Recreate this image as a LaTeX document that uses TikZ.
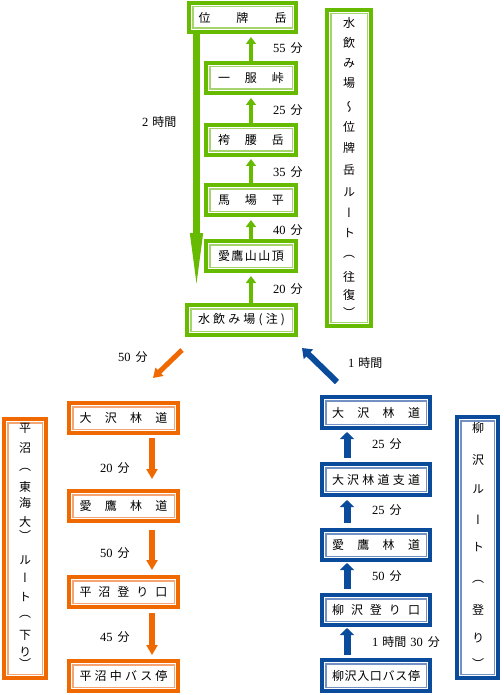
\documentclass[tikz,border=0pt]{standalone}
\usepackage{fontspec}
\setmainfont{Liberation Serif}
\newfontfamily\jp{Noto Sans CJK JP}[Scale=0.96]
\newfontfamily\jpv{Noto Sans CJK JP}[Scale=0.96,RawFeature=+vert]
\usetikzlibrary{arrows.meta,calc}
\definecolor{gdark}{RGB}{102,187,0}
\definecolor{glight}{RGB}{165,212,110}
\definecolor{odark}{RGB}{240,105,0}
\definecolor{olight}{RGB}{245,165,115}
\definecolor{bdark}{RGB}{10,75,155}
\definecolor{blight}{RGB}{115,145,195}
\tikzset{
  dblframe/.style 2 args={draw=#1,line width=4pt,fill=white,inner sep=0pt,
    path picture={\draw[draw=#2,line width=1.5pt]
      ([shift={(3.75pt,3.75pt)}]path picture bounding box.south west) rectangle
      ([shift={(-3.75pt,-3.75pt)}]path picture bounding box.north east);}},
  gbox/.style={dblframe={gdark}{glight},minimum height=30pt},
  obox/.style={dblframe={odark}{olight},minimum width=109pt,minimum height=30pt},
  bbox/.style={dblframe={bdark}{blight},minimum width=108pt,minimum height=30pt},
  lbl/.style={inner sep=0pt,anchor=west},
  vch/.style={inner sep=0pt,font=\fontsize{12.5}{15}\selectfont\jpv},
  garrow/.style={draw=gdark,line width=4.5pt,-{Triangle[width=10pt,length=7pt]}},
  bigarrow/.style={draw=gdark,line width=7pt,-{Triangle[width=11pt,length=66pt]}},
  oarrow/.style={draw=odark,line width=6pt,-{Triangle[width=11pt,length=10pt]}},
  odarrow/.style={draw=odark,line width=5pt,-{Triangle[width=11pt,length=9pt]}},
  barrow/.style={draw=bdark,line width=7pt,-{Triangle[width=14pt,length=7pt]}},
  bdarrow/.style={draw=bdark,line width=6pt,-{Triangle[width=13pt,length=9pt]}},
}
\begin{document}
\begin{tikzpicture}[x=1pt,y=-1pt,every node/.style={font=\fontsize{12.5}{15}\selectfont}]
\fill[white] (0,0) rectangle (503,695);
\useasboundingbox (0,0) rectangle (503,695);

% green route
\node[gbox,minimum width=107pt,minimum height=29pt] (ihai) at (242.5,17.5) {\jp\makebox[88pt][s]{位\hfill 牌\hfill 岳}};
\node[gbox,minimum width=90pt] (ippuku) at (251,78) {\jp\makebox[66pt][s]{一\hfill 服\hfill 峠}};
\node[gbox,minimum width=90pt] (hakama) at (251,140) {\jp\makebox[66pt][s]{袴\hfill 腰\hfill 岳}};
\node[gbox,minimum width=90pt] (baba) at (251,200) {\jp\makebox[66pt][s]{馬\hfill 場\hfill 平}};
\node[gbox,minimum width=90pt] (sancho) at (251,256) {\jp\makebox[66pt][s]{愛\hfill 鷹\hfill 山\hfill 山\hfill 頂}};
\node[gbox,minimum width=109pt] (mizu) at (241.5,320) {\jp\makebox[87pt][s]{水\hfill 飲\hfill み\hfill 場\hfill (\hfill 注\hfill )}};
\node[gbox,minimum width=44pt,minimum height=316pt] (groute) at (349,168) {};
\foreach \c/\y [count=\i] in {水/23,飲/43,み/63,場/83,〜/107,位/127,牌/148,岳/170,ル/192,ー/213,ト/233,（/257,往/277,復/295,）/312}
  \node[vch] (gv\i) at (349,\y) {\c};

\draw[garrow,shorten >=3pt] (ippuku.north) -- (ihai.south -| ippuku.north);
\draw[garrow,shorten >=3pt] (hakama.north) -- (ippuku.south);
\draw[garrow,shorten >=2pt] (baba.north) -- (hakama.south);
\draw[garrow,shorten >=3pt] (sancho.north) -- (baba.south);
\draw[garrow,shorten >=3pt] (mizu.north -| sancho.north) -- (sancho.south);
\draw[bigarrow,shorten >=4pt] ([xshift=9.5pt]ihai.south west) -- ([xshift=11.5pt]mizu.north west);

\node[lbl] (g55) at (273,48) {55\hspace{5pt}{\jp 分}};
\node[lbl] (g25) at (273,110) {25\hspace{5pt}{\jp 分}};
\node[lbl] (g35) at (273,172) {35\hspace{5pt}{\jp 分}};
\node[lbl] (g40) at (273,230) {40\hspace{5pt}{\jp 分}};
\node[lbl] (g20) at (273,289) {20\hspace{5pt}{\jp 分}};
\node[lbl] (g2h) at (142,122) {2\hspace{4pt}{\jp 時間}};

% orange route
\node[obox] (ooL) at (123.5,418) {\jp\makebox[88pt][s]{大\hfill 沢\hfill 林\hfill 道}};
\node[obox] (aiL) at (123.5,506) {\jp\makebox[88pt][s]{愛\hfill 鷹\hfill 林\hfill 道}};
\node[obox] (hiraL) at (123.5,592) {\jp\makebox[88pt][s]{平\hfill 沼\hfill 登\hfill り\hfill 口}};
\node[obox] (busL) at (123.5,676) {\jp\makebox[88pt][s]{平\hfill 沼\hfill 中\hfill バ\hfill ス\hfill 停}};
\node[obox,minimum width=42pt,minimum height=259pt] (oroute) at (25,548.5) {};
\foreach \c/\y [count=\i] in {平/428,沼/448,（/470,東/487,海/503,大/522,）/535,ル/560,ー/578,ト/597,（/617,下/635,り/652,）/663}
  \node[vch] (ov\i) at (25,\y) {\c};

\draw[oarrow,shorten <=3pt,shorten >=10pt] ([xshift=28.5pt]ooL.south) -- ([xshift=28.5pt]aiL.north);
\draw[oarrow,shorten <=7pt,shorten >=5pt] ([xshift=28.5pt]aiL.south) -- ([xshift=28.5pt]hiraL.north);
\draw[oarrow,shorten <=4pt,shorten >=4pt] ([xshift=28.5pt]hiraL.south) -- ([xshift=28.5pt]busL.north);
\draw[odarrow] ([shift={(-3pt,-13pt)}]mizu.south west) -- ([shift={(-27pt,23pt)}]ooL.north east);

\node[lbl] (o50d) at (118,357) {50\hspace{5pt}{\jp 分}};
\node[lbl] (o20) at (100,468) {20\hspace{5pt}{\jp 分}};
\node[lbl] (o50) at (100,553) {50\hspace{5pt}{\jp 分}};
\node[lbl] (o45) at (100,637) {45\hspace{5pt}{\jp 分}};

% blue route
\node[bbox,minimum height=31pt] (ooR) at (376,412.5) {\jp\makebox[88pt][s]{大\hfill 沢\hfill 林\hfill 道}};
\node[bbox,minimum height=31pt] (shiR) at (376,479.5) {\jp\makebox[88pt][s]{大\hfill 沢\hfill 林\hfill 道\hfill 支\hfill 道}};
\node[bbox] (aiR) at (376,545) {\jp\makebox[88pt][s]{愛\hfill 鷹\hfill 林\hfill 道}};
\node[bbox] (tozR) at (376,610) {\jp\makebox[88pt][s]{柳\hfill 沢\hfill 登\hfill り\hfill 口}};
\node[bbox,minimum height=31pt] (busR) at (376,675.5) {\jp\makebox[88pt][s]{柳\hfill 沢\hfill 入\hfill 口\hfill バ\hfill ス\hfill 停}};
\node[bbox,minimum width=41pt,minimum height=261pt] (broute) at (477.5,547.5) {};
\foreach \c/\y [count=\i] in {柳/428,沢/460,ル/489,ー/520,ト/547,（/582,登/610,り/638,）/663}
  \node[vch] (bv\i) at (478,\y) {\c};

\draw[barrow,shorten <=4pt,shorten >=2pt] ([xshift=-29pt]shiR.north) -- ([xshift=-29pt]ooR.south);
\draw[barrow,shorten <=5pt,shorten >=3pt] ([xshift=-29pt]aiR.north) -- ([xshift=-29pt]shiR.south);
\draw[barrow,shorten <=4pt,shorten >=1pt] ([xshift=-29pt]tozR.north) -- ([xshift=-29pt]aiR.south);
\draw[barrow,shorten <=3pt,shorten >=1pt] ([xshift=-29pt]busR.north) -- ([xshift=-29pt]tozR.south);
\draw[bdarrow] ([shift={(17pt,13pt)}]ooR.north west) -- ([shift={(4pt,-11pt)}]mizu.south east);

\node[lbl] (b1h) at (348,363) {1\hspace{4pt}{\jp 時間}};
\node[lbl] (b25a) at (372,444) {25\hspace{5pt}{\jp 分}};
\node[lbl] (b25b) at (372,510) {25\hspace{5pt}{\jp 分}};
\node[lbl] (b50) at (372,576) {50\hspace{5pt}{\jp 分}};
\node[lbl] (b130) at (372,642) {1\hspace{4pt}{\jp 時間}\hspace{4pt}30\hspace{5pt}{\jp 分}};
\end{tikzpicture}
\end{document}
